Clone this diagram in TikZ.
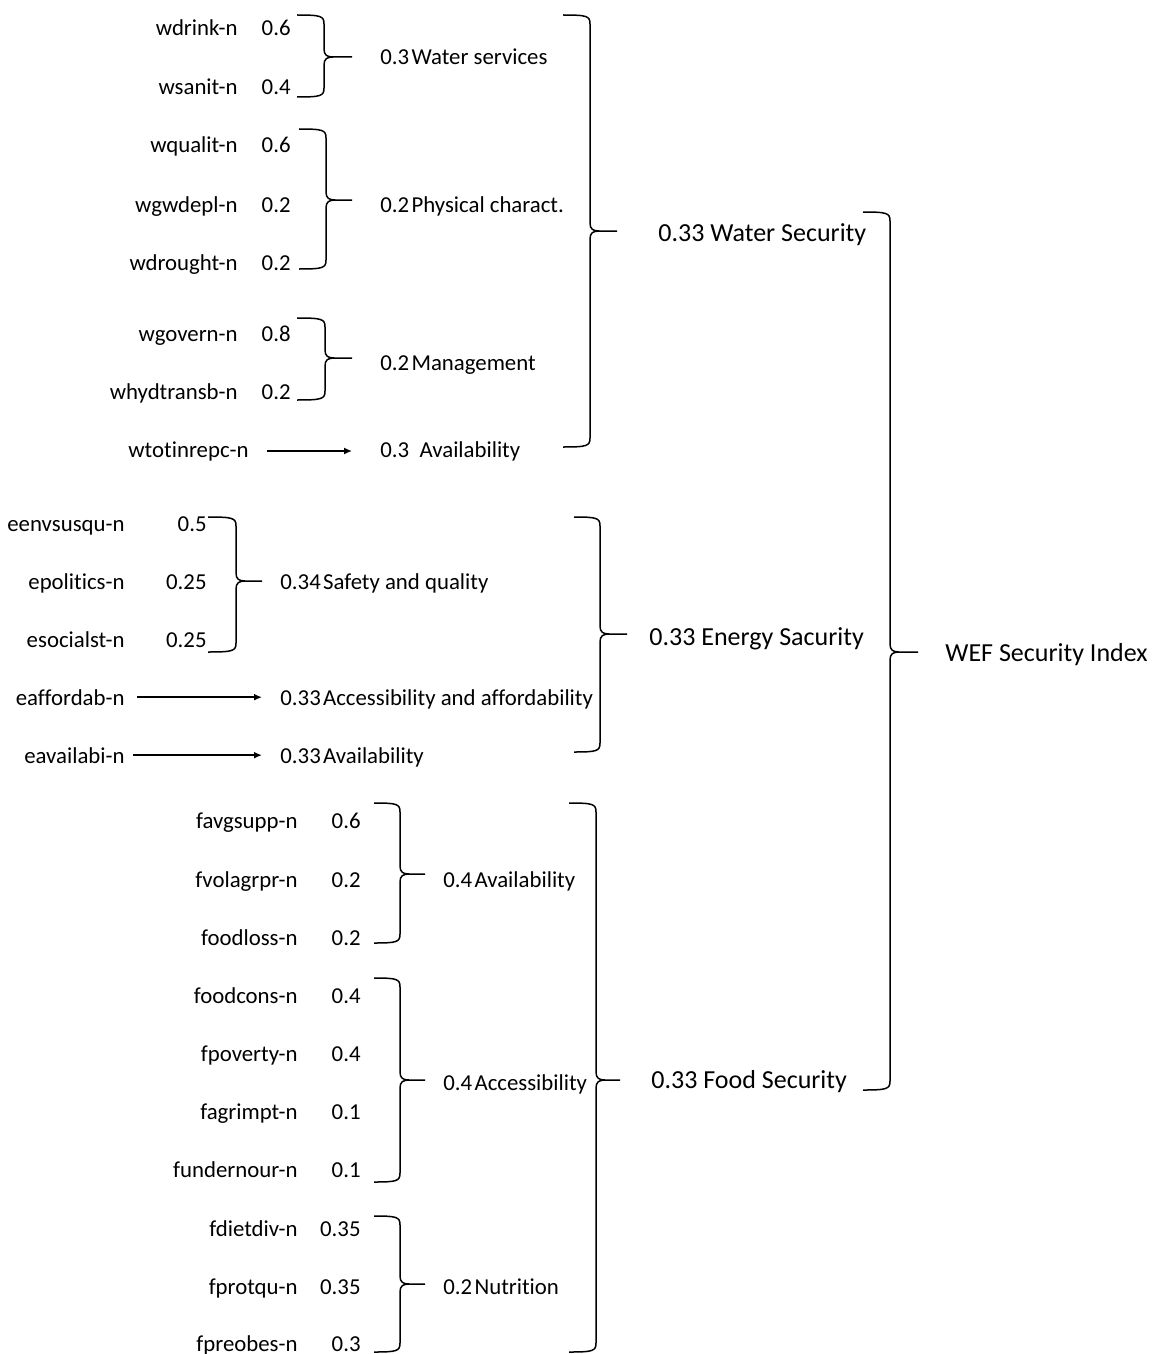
\documentclass[tikz,border=0pt]{standalone}
\usepackage{fontspec}
\setmainfont{Carlito}[Ligatures=NoCommon]
\usetikzlibrary{arrows.meta}
\newcommand\wefbrace[6]{%
  \draw[bracestyle] (#1,#2) .. controls ({#3-3},#2) and (#3,{#2+1}) .. (#3,{#2+9})
    -- (#3,{#5-8}) .. controls (#3,{#5-2}) and ({#3+3},#5) .. ({#3+9},#5) -- (#6,#5);
  \draw[bracestyle] ({#3+9},#5) .. controls ({#3+3},#5) and (#3,{#5+2}) .. (#3,{#5+8})
    -- (#3,{#4-9}) .. controls (#3,{#4-1}) and ({#3-3},#4) .. (#1,#4);}
\begin{document}
\begin{tikzpicture}[x=0.5pt,y=-0.5pt,
  bracestyle/.style={line width=0.75pt},
  leaf/.style={anchor=base east,inner sep=0pt,font=\fontsize{11.4}{13}\selectfont},
  wgt/.style={anchor=base east,inner sep=0pt,font=\fontsize{11.4}{13}\selectfont},
  grp/.style={anchor=base west,inner sep=0pt,font=\fontsize{11.4}{13}\selectfont},
  top/.style={anchor=base west,inner sep=0pt,font=\fontsize{13}{15}\selectfont},
  arr/.style={line width=0.75pt,-{Latex[length=4pt,width=3.5pt]}}]
\useasboundingbox (0,0) rectangle (1153,1354);
% ---------- Water ----------
\node[leaf] (wdrink) at (238,36) {wdrink-n};
\node[wgt] (wdrinkw) at (291,36) {0.6};
\node[leaf] (wsanit) at (238,95) {wsanit-n};
\node[wgt] (wsanitw) at (291,95) {0.4};
\node[leaf] (wqualit) at (238,153) {wqualit-n};
\node[wgt] (wqualitw) at (291,153) {0.6};
\node[leaf] (wgwdepl) at (238,212) {wgwdepl-n};
\node[wgt] (wgwdeplw) at (291,212) {0.2};
\node[leaf] (wdrought) at (238,270) {wdrought-n};
\node[wgt] (wdroughtw) at (291,270) {0.2};
\node[leaf] (wgovern) at (238,341) {wgovern-n};
\node[wgt] (wgovernw) at (291,341) {0.8};
\node[leaf] (whydtransb) at (238,399) {whydtransb-n};
\node[wgt] (whydtransbw) at (291,399) {0.2};
\node[leaf] (wtot) at (249,457) {wtotinrepc-n};
\node[grp] (wsvc) at (380,65) {0.3\kern0.1em Water services};
\node[grp] (wphys) at (380,212) {0.2\kern0.1em Physical charact.};
\node[grp] (wman) at (380,370) {0.2\kern0.1em Management};
\node[grp] (wavl) at (380,457) {0.3\ \ Availability};
\draw[arr,shorten <=9pt,shorten >=14pt] (wtot.east) -- (wtot.east -| wavl.west);
\wefbrace{297}{15}{324}{97}{57}{352}
\wefbrace{299}{129}{326}{269}{200}{352}
\wefbrace{297}{318}{325}{400}{358}{352}
\wefbrace{563}{15}{590}{447}{231}{617}
\node[top] (wsec) at (658,241) {0.33 Water Security};
% ---------- Energy ----------
\node[leaf] (eenv) at (125,531) {eenvsusqu-n};
\node[wgt] (eenvw) at (207,531) {0.5};
\node[leaf] (epol) at (125,589) {epolitics-n};
\node[wgt] (epolw) at (207,589) {0.25};
\node[leaf] (esoc) at (125,647) {esocialst-n};
\node[wgt] (esocw) at (207,647) {0.25};
\node[leaf] (eaff) at (125,705) {eaffordab-n};
\node[leaf] (eav) at (125,763) {eavailabi-n};
\node[grp] (esaf) at (280,589) {0.34\kern0.1em Safety and quality};
\node[grp] (eacc) at (280,705) {0.33\kern0.1em Accessibility and affordability};
\node[grp] (eavl) at (280,763) {0.33\kern0.1em Availability};
\draw[arr,shorten <=6pt,shorten >=9pt] (eaff.east) -- (eaff.east -| eacc.west);
\draw[arr,shorten <=4pt,shorten >=9pt] (eav.east) -- (eav.east -| eavl.west);
\wefbrace{208}{517}{236}{652}{581}{262}
\wefbrace{574}{517}{600}{752}{634}{627}
\node[top] (esec) at (649,645) {0.33 Energy Sacurity};
% ---------- Food ----------
\node[leaf] (favg) at (298,828) {favgsupp-n};
\node[wgt] (favgw) at (361,828) {0.6};
\node[leaf] (fvol) at (298,887) {fvolagrpr-n};
\node[wgt] (fvolw) at (361,887) {0.2};
\node[leaf] (floss) at (298,945) {foodloss-n};
\node[wgt] (flossw) at (361,945) {0.2};
\node[leaf] (fcons) at (298,1003) {foodcons-n};
\node[wgt] (fconsw) at (361,1003) {0.4};
\node[leaf] (fpov) at (298,1061) {fpoverty-n};
\node[wgt] (fpovw) at (361,1061) {0.4};
\node[leaf] (fagr) at (298,1119) {fagrimpt-n};
\node[wgt] (fagrw) at (361,1119) {0.1};
\node[leaf] (fund) at (298,1177) {fundernour-n};
\node[wgt] (fundw) at (361,1177) {0.1};
\node[leaf] (fdiet) at (298,1236) {fdietdiv-n};
\node[wgt] (fdietw) at (361,1236) {0.35};
\node[leaf] (fprot) at (298,1294) {fprotqu-n};
\node[wgt] (fprotw) at (361,1294) {0.35};
\node[leaf] (fpre) at (298,1351) {fpreobes-n};
\node[wgt] (fprew) at (361,1351) {0.3};
\node[grp] (favl) at (443,887) {0.4\kern0.1em Availability};
\node[grp] (facc) at (443,1090) {0.4\kern0.1em Accessibility};
\node[grp] (fnut) at (443,1294) {0.2\kern0.1em Nutrition};
\wefbrace{374}{803}{400}{943}{874}{425}
\wefbrace{374}{978}{400}{1182}{1080}{425}
\wefbrace{374}{1216}{400}{1352}{1284}{425}
\wefbrace{569}{803}{596}{1352}{1080}{620}
\node[top] (fsec) at (651,1088) {0.33 Food Security};
% ---------- WEF ----------
\wefbrace{863}{212}{890}{1090}{652}{918}
\node[top] (wef) at (945,661) {WEF Security Index};
\end{tikzpicture}
\end{document}
